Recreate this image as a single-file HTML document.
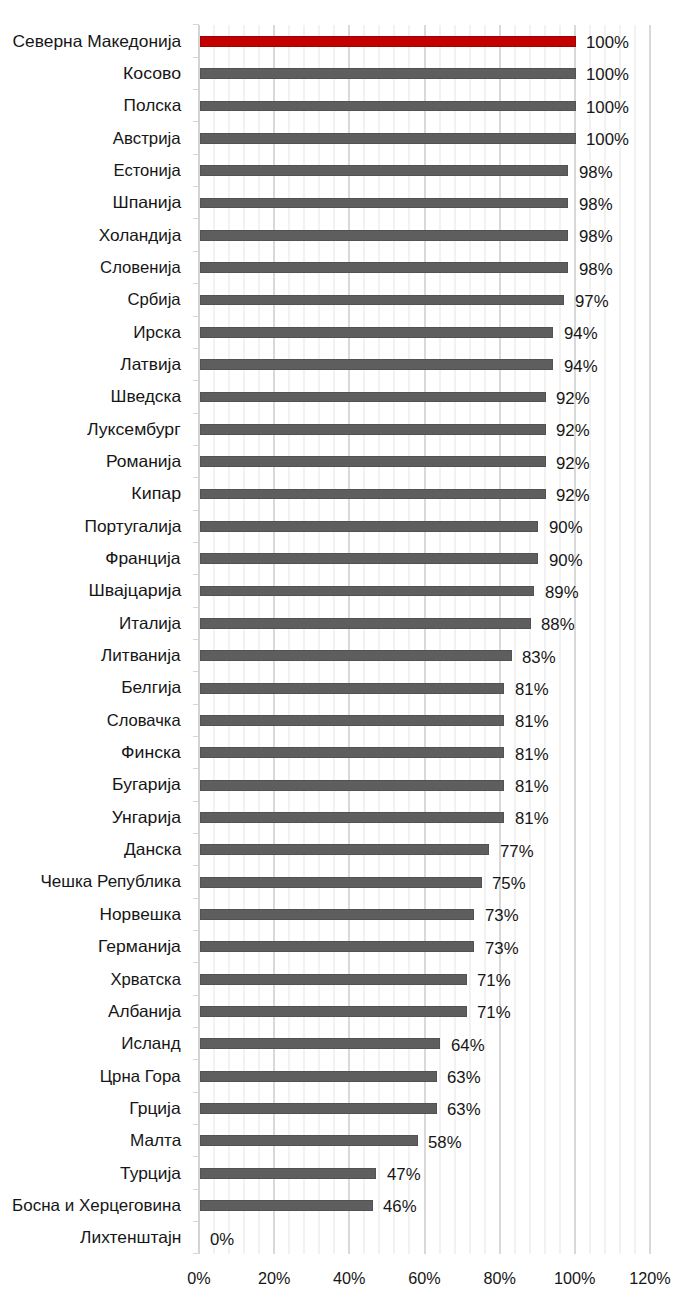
<!DOCTYPE html>
<html><head><meta charset="utf-8"><title>Chart</title>
<style>
html,body{margin:0;padding:0;background:#fff;}
body{width:693px;height:1302px;overflow:hidden;position:relative;font-family:"Liberation Sans","DejaVu Sans",sans-serif;color:#161616;}
.a{position:absolute;}
.mn{position:absolute;width:2px;background:#f2f2f2;}
.mj{position:absolute;width:2px;background:#d9d9d9;}
.tk{position:absolute;height:1px;background:#d6d6d6;left:193px;width:6px;}
.b{position:absolute;background:#5e5e5e;box-shadow:inset 0 0 0 1px #525252;}
.r{background:#c20000;box-shadow:inset 0 0 0 1px #a30000;}
.cl{position:absolute;right:512px;transform-origin:100% 50%;white-space:nowrap;font-size:16.5px;line-height:20px;text-align:right;}
.dl{position:absolute;white-space:nowrap;font-size:16.2px;transform:scaleX(1.035);transform-origin:0 50%;line-height:20px;}
.xl{position:absolute;white-space:nowrap;font-size:16.2px;line-height:20px;width:60px;text-align:center;}
</style></head><body>
<div class="mn" style="left:213.0px;top:24.9px;height:1228.9px"></div>
<div class="mn" style="left:228.1px;top:24.9px;height:1228.9px"></div>
<div class="mn" style="left:243.1px;top:24.9px;height:1228.9px"></div>
<div class="mn" style="left:258.1px;top:24.9px;height:1228.9px"></div>
<div class="mj" style="left:273.2px;top:24.9px;height:1228.9px"></div>
<div class="mn" style="left:288.2px;top:24.9px;height:1228.9px"></div>
<div class="mn" style="left:303.2px;top:24.9px;height:1228.9px"></div>
<div class="mn" style="left:318.3px;top:24.9px;height:1228.9px"></div>
<div class="mn" style="left:333.3px;top:24.9px;height:1228.9px"></div>
<div class="mj" style="left:348.3px;top:24.9px;height:1228.9px"></div>
<div class="mn" style="left:363.4px;top:24.9px;height:1228.9px"></div>
<div class="mn" style="left:378.4px;top:24.9px;height:1228.9px"></div>
<div class="mn" style="left:393.4px;top:24.9px;height:1228.9px"></div>
<div class="mn" style="left:408.4px;top:24.9px;height:1228.9px"></div>
<div class="mj" style="left:423.5px;top:24.9px;height:1228.9px"></div>
<div class="mn" style="left:438.5px;top:24.9px;height:1228.9px"></div>
<div class="mn" style="left:453.5px;top:24.9px;height:1228.9px"></div>
<div class="mn" style="left:468.6px;top:24.9px;height:1228.9px"></div>
<div class="mn" style="left:483.6px;top:24.9px;height:1228.9px"></div>
<div class="mj" style="left:498.6px;top:24.9px;height:1228.9px"></div>
<div class="mn" style="left:513.7px;top:24.9px;height:1228.9px"></div>
<div class="mn" style="left:528.7px;top:24.9px;height:1228.9px"></div>
<div class="mn" style="left:543.7px;top:24.9px;height:1228.9px"></div>
<div class="mn" style="left:558.8px;top:24.9px;height:1228.9px"></div>
<div class="mj" style="left:573.8px;top:24.9px;height:1228.9px"></div>
<div class="mn" style="left:588.8px;top:24.9px;height:1228.9px"></div>
<div class="mn" style="left:603.9px;top:24.9px;height:1228.9px"></div>
<div class="mn" style="left:618.9px;top:24.9px;height:1228.9px"></div>
<div class="mn" style="left:633.9px;top:24.9px;height:1228.9px"></div>
<div class="mj" style="left:649.0px;top:24.9px;height:1228.9px"></div>
<div class="a" style="left:198px;top:24.9px;width:2px;height:1228.9px;background:#d4d4d4"></div>
<div class="tk" style="top:24.4px"></div>
<div class="tk" style="top:56.7px"></div>
<div class="tk" style="top:89.1px"></div>
<div class="tk" style="top:121.4px"></div>
<div class="tk" style="top:153.8px"></div>
<div class="tk" style="top:186.1px"></div>
<div class="tk" style="top:218.4px"></div>
<div class="tk" style="top:250.8px"></div>
<div class="tk" style="top:283.1px"></div>
<div class="tk" style="top:315.5px"></div>
<div class="tk" style="top:347.8px"></div>
<div class="tk" style="top:380.1px"></div>
<div class="tk" style="top:412.5px"></div>
<div class="tk" style="top:444.8px"></div>
<div class="tk" style="top:477.2px"></div>
<div class="tk" style="top:509.5px"></div>
<div class="tk" style="top:541.8px"></div>
<div class="tk" style="top:574.2px"></div>
<div class="tk" style="top:606.5px"></div>
<div class="tk" style="top:638.9px"></div>
<div class="tk" style="top:671.2px"></div>
<div class="tk" style="top:703.5px"></div>
<div class="tk" style="top:735.9px"></div>
<div class="tk" style="top:768.2px"></div>
<div class="tk" style="top:800.6px"></div>
<div class="tk" style="top:832.9px"></div>
<div class="tk" style="top:865.2px"></div>
<div class="tk" style="top:897.6px"></div>
<div class="tk" style="top:929.9px"></div>
<div class="tk" style="top:962.3px"></div>
<div class="tk" style="top:994.6px"></div>
<div class="tk" style="top:1026.9px"></div>
<div class="tk" style="top:1059.3px"></div>
<div class="tk" style="top:1091.6px"></div>
<div class="tk" style="top:1124.0px"></div>
<div class="tk" style="top:1156.3px"></div>
<div class="tk" style="top:1188.6px"></div>
<div class="tk" style="top:1221.0px"></div>
<div class="tk" style="top:1253.3px"></div>
<div class="b r" style="left:200px;top:35.9px;width:375.6px;height:10.9px"></div>
<div class="cl" style="top:30.6px;transform:scaleX(1.0529)">Северна Македонија</div>
<div class="dl" style="left:586.1px;top:32.1px">100%</div>
<div class="b" style="left:200px;top:68.2px;width:375.6px;height:10.9px"></div>
<div class="cl" style="top:62.9px;transform:scaleX(1.0735)">Косово</div>
<div class="dl" style="left:586.1px;top:64.4px">100%</div>
<div class="b" style="left:200px;top:100.5px;width:375.6px;height:10.9px"></div>
<div class="cl" style="top:95.3px;transform:scaleX(1.0431)">Полска</div>
<div class="dl" style="left:586.1px;top:96.8px">100%</div>
<div class="b" style="left:200px;top:132.9px;width:375.6px;height:10.9px"></div>
<div class="cl" style="top:127.6px;transform:scaleX(1.0175)">Австрија</div>
<div class="dl" style="left:586.1px;top:129.1px">100%</div>
<div class="b" style="left:200px;top:165.2px;width:368.1px;height:10.9px"></div>
<div class="cl" style="top:160.0px;transform:scaleX(1.0079)">Естонија</div>
<div class="dl" style="left:578.6px;top:161.5px">98%</div>
<div class="b" style="left:200px;top:197.6px;width:368.1px;height:10.9px"></div>
<div class="cl" style="top:192.3px;transform:scaleX(1.0707)">Шпанија</div>
<div class="dl" style="left:578.6px;top:193.8px">98%</div>
<div class="b" style="left:200px;top:229.9px;width:368.1px;height:10.9px"></div>
<div class="cl" style="top:224.6px;transform:scaleX(1.0418)">Холандија</div>
<div class="dl" style="left:578.6px;top:226.1px">98%</div>
<div class="b" style="left:200px;top:262.2px;width:368.1px;height:10.9px"></div>
<div class="cl" style="top:257.0px;transform:scaleX(1.0111)">Словенија</div>
<div class="dl" style="left:578.6px;top:258.5px">98%</div>
<div class="b" style="left:200px;top:294.6px;width:364.3px;height:10.9px"></div>
<div class="cl" style="top:289.3px;transform:scaleX(1.0100)">Србија</div>
<div class="dl" style="left:574.8px;top:290.8px">97%</div>
<div class="b" style="left:200px;top:326.9px;width:353.1px;height:10.9px"></div>
<div class="cl" style="top:321.7px;transform:scaleX(1.0368)">Ирска</div>
<div class="dl" style="left:563.6px;top:323.2px">94%</div>
<div class="b" style="left:200px;top:359.3px;width:353.1px;height:10.9px"></div>
<div class="cl" style="top:354.0px;transform:scaleX(1.0466)">Латвија</div>
<div class="dl" style="left:563.6px;top:355.5px">94%</div>
<div class="b" style="left:200px;top:391.6px;width:345.5px;height:10.9px"></div>
<div class="cl" style="top:386.3px;transform:scaleX(1.0514)">Шведска</div>
<div class="dl" style="left:556.0px;top:387.8px">92%</div>
<div class="b" style="left:200px;top:423.9px;width:345.5px;height:10.9px"></div>
<div class="cl" style="top:418.7px;transform:scaleX(1.0682)">Луксембург</div>
<div class="dl" style="left:556.0px;top:420.2px">92%</div>
<div class="b" style="left:200px;top:456.3px;width:345.5px;height:10.9px"></div>
<div class="cl" style="top:451.0px;transform:scaleX(1.0576)">Романија</div>
<div class="dl" style="left:556.0px;top:452.5px">92%</div>
<div class="b" style="left:200px;top:488.6px;width:345.5px;height:10.9px"></div>
<div class="cl" style="top:483.4px;transform:scaleX(1.0799)">Кипар</div>
<div class="dl" style="left:556.0px;top:484.9px">92%</div>
<div class="b" style="left:200px;top:521.0px;width:338.0px;height:10.9px"></div>
<div class="cl" style="top:515.7px;transform:scaleX(1.0479)">Португалија</div>
<div class="dl" style="left:548.5px;top:517.2px">90%</div>
<div class="b" style="left:200px;top:553.3px;width:338.0px;height:10.9px"></div>
<div class="cl" style="top:548.0px;transform:scaleX(1.0533)">Франција</div>
<div class="dl" style="left:548.5px;top:549.5px">90%</div>
<div class="b" style="left:200px;top:585.6px;width:334.3px;height:10.9px"></div>
<div class="cl" style="top:580.4px;transform:scaleX(1.0763)">Швајцарија</div>
<div class="dl" style="left:544.8px;top:581.9px">89%</div>
<div class="b" style="left:200px;top:618.0px;width:330.5px;height:10.9px"></div>
<div class="cl" style="top:612.7px;transform:scaleX(1.0321)">Италија</div>
<div class="dl" style="left:541.0px;top:614.2px">88%</div>
<div class="b" style="left:200px;top:650.3px;width:311.7px;height:10.9px"></div>
<div class="cl" style="top:645.1px;transform:scaleX(1.0404)">Литванија</div>
<div class="dl" style="left:522.2px;top:646.6px">83%</div>
<div class="b" style="left:200px;top:682.7px;width:304.2px;height:10.9px"></div>
<div class="cl" style="top:677.4px;transform:scaleX(1.0501)">Белгија</div>
<div class="dl" style="left:514.7px;top:678.9px">81%</div>
<div class="b" style="left:200px;top:715.0px;width:304.2px;height:10.9px"></div>
<div class="cl" style="top:709.7px;transform:scaleX(1.0041)">Словачка</div>
<div class="dl" style="left:514.7px;top:711.2px">81%</div>
<div class="b" style="left:200px;top:747.3px;width:304.2px;height:10.9px"></div>
<div class="cl" style="top:742.1px;transform:scaleX(1.0694)">Финска</div>
<div class="dl" style="left:514.7px;top:743.6px">81%</div>
<div class="b" style="left:200px;top:779.7px;width:304.2px;height:10.9px"></div>
<div class="cl" style="top:774.4px;transform:scaleX(1.0602)">Бугарија</div>
<div class="dl" style="left:514.7px;top:775.9px">81%</div>
<div class="b" style="left:200px;top:812.0px;width:304.2px;height:10.9px"></div>
<div class="cl" style="top:806.8px;transform:scaleX(1.0672)">Унгарија</div>
<div class="dl" style="left:514.7px;top:808.3px">81%</div>
<div class="b" style="left:200px;top:844.4px;width:289.2px;height:10.9px"></div>
<div class="cl" style="top:839.1px;transform:scaleX(1.0552)">Данска</div>
<div class="dl" style="left:499.7px;top:840.6px">77%</div>
<div class="b" style="left:200px;top:876.7px;width:281.7px;height:10.9px"></div>
<div class="cl" style="top:871.4px;transform:scaleX(1.0339)">Чешка Република</div>
<div class="dl" style="left:492.2px;top:872.9px">75%</div>
<div class="b" style="left:200px;top:909.0px;width:274.1px;height:10.9px"></div>
<div class="cl" style="top:903.8px;transform:scaleX(1.0437)">Норвешка</div>
<div class="dl" style="left:484.6px;top:905.3px">73%</div>
<div class="b" style="left:200px;top:941.4px;width:274.1px;height:10.9px"></div>
<div class="cl" style="top:936.1px;transform:scaleX(1.0646)">Германија</div>
<div class="dl" style="left:484.6px;top:937.6px">73%</div>
<div class="b" style="left:200px;top:973.7px;width:266.6px;height:10.9px"></div>
<div class="cl" style="top:968.5px;transform:scaleX(1.0077)">Хрватска</div>
<div class="dl" style="left:477.1px;top:970.0px">71%</div>
<div class="b" style="left:200px;top:1006.1px;width:266.6px;height:10.9px"></div>
<div class="cl" style="top:1000.8px;transform:scaleX(1.0445)">Албанија</div>
<div class="dl" style="left:477.1px;top:1002.3px">71%</div>
<div class="b" style="left:200px;top:1038.4px;width:240.3px;height:10.9px"></div>
<div class="cl" style="top:1033.1px;transform:scaleX(1.0320)">Исланд</div>
<div class="dl" style="left:450.8px;top:1034.6px">64%</div>
<div class="b" style="left:200px;top:1070.7px;width:236.6px;height:10.9px"></div>
<div class="cl" style="top:1065.5px;transform:scaleX(1.0170)">Црна Гора</div>
<div class="dl" style="left:447.1px;top:1067.0px">63%</div>
<div class="b" style="left:200px;top:1103.1px;width:236.6px;height:10.9px"></div>
<div class="cl" style="top:1097.8px;transform:scaleX(1.0572)">Грција</div>
<div class="dl" style="left:447.1px;top:1099.3px">63%</div>
<div class="b" style="left:200px;top:1135.4px;width:217.8px;height:10.9px"></div>
<div class="cl" style="top:1130.2px;transform:scaleX(1.0414)">Малта</div>
<div class="dl" style="left:428.3px;top:1131.7px">58%</div>
<div class="b" style="left:200px;top:1167.8px;width:176.4px;height:10.9px"></div>
<div class="cl" style="top:1162.5px;transform:scaleX(1.0499)">Турција</div>
<div class="dl" style="left:386.9px;top:1164.0px">47%</div>
<div class="b" style="left:200px;top:1200.1px;width:172.7px;height:10.9px"></div>
<div class="cl" style="top:1194.8px;transform:scaleX(1.0302)">Босна и Херцеговина</div>
<div class="dl" style="left:383.2px;top:1196.3px">46%</div>
<div class="cl" style="top:1227.2px;transform:scaleX(1.0513)">Лихтенштајн</div>
<div class="dl" style="left:210.3px;top:1228.7px">0%</div>
<div class="xl" style="left:169.0px;top:1268px">0%</div>
<div class="xl" style="left:244.2px;top:1268px">20%</div>
<div class="xl" style="left:319.3px;top:1268px">40%</div>
<div class="xl" style="left:394.5px;top:1268px">60%</div>
<div class="xl" style="left:469.6px;top:1268px">80%</div>
<div class="xl" style="left:544.8px;top:1268px">100%</div>
<div class="xl" style="left:620.0px;top:1268px">120%</div>
</body></html>
